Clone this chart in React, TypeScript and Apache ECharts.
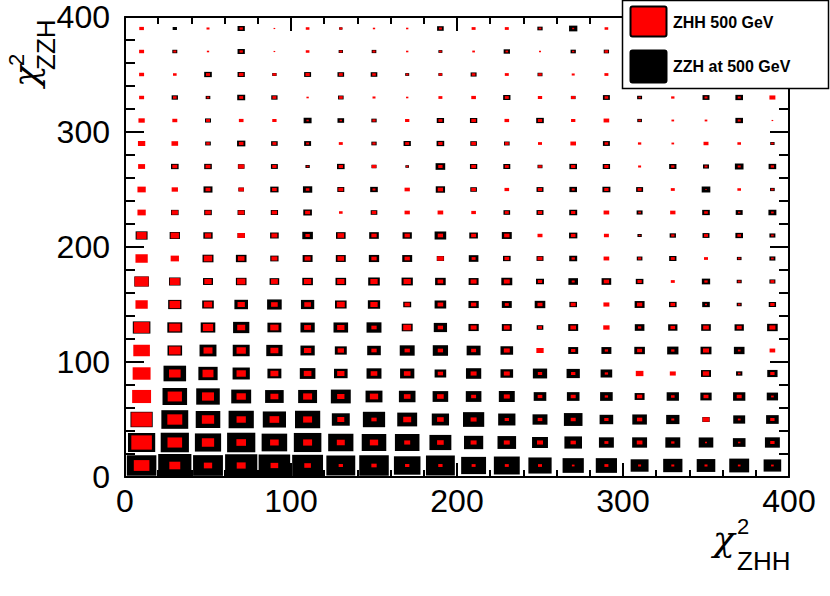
import React, { useEffect, useRef } from 'react';
import * as echarts from 'echarts';

// bin layout: 20 x 20 bins of width 20 on both axes (0..400)
const binWidth = 20;
const xTickLabels = ['0', '100', '200', '300', '400'];
const yTickLabels = ['0', '100', '200', '300', '400'];

// Relative bin contents (box size in % of the largest box), rows = chi2_ZZH bins (bottom to top),
// columns = chi2_ZHH bins (left to right)
const ZHH_500 = [
  [47, 33, 25, 27, 23, 20, 13, 16, 13, 13, 12, 12, 12, 8, 12, 9, 9, 9, 8, 8],
  [62, 44, 37, 29, 26, 27, 24, 25, 18, 20, 18, 18, 18, 16, 12, 17, 10, 6, 7, 13],
  [62, 45, 37, 28, 29, 27, 21, 16, 24, 20, 18, 13, 14, 15, 13, 16, 9, 20, 8, 13],
  [57, 43, 36, 28, 24, 27, 22, 25, 20, 20, 15, 18, 14, 15, 10, 16, 11, 15, 15, 8],
  [54, 35, 33, 28, 24, 23, 22, 20, 20, 16, 18, 18, 13, 13, 10, 23, 18, 19, 8, 13],
  [50, 35, 27, 28, 24, 22, 19, 16, 16, 16, 15, 18, 22, 13, 10, 15, 10, 18, 8, 17],
  [47, 34, 31, 24, 25, 21, 22, 16, 24, 16, 18, 18, 12, 17, 19, 10, 14, 17, 15, 18],
  [37, 32, 25, 22, 20, 20, 24, 22, 16, 17, 16, 12, 15, 15, 18, 16, 14, 6, 8, 13],
  [42, 30, 22, 25, 21, 22, 22, 22, 22, 17, 18, 18, 13, 9, 16, 13, 12, 10, 9, 12],
  [37, 25, 25, 20, 18, 18, 20, 16, 16, 20, 12, 14, 15, 10, 17, 10, 12, 12, 8, 8],
  [30, 25, 19, 22, 18, 13, 20, 16, 16, 16, 15, 16, 15, 14, 15, 6, 10, 12, 11, 8],
  [25, 19, 17, 18, 16, 15, 11, 14, 16, 17, 14, 12, 13, 13, 17, 8, 16, 11, 7, 8],
  [25, 19, 15, 16, 14, 11, 15, 9, 16, 16, 14, 14, 13, 9, 13, 12, 12, 4, 11, 8],
  [21, 15, 15, 18, 13, 7, 13, 14, 7, 13, 14, 12, 11, 13, 13, 9, 10, 9, 9, 10],
  [22, 20, 11, 14, 12, 9, 12, 10, 12, 13, 14, 12, 12, 17, 11, 10, 8, 15, 11, 8],
  [19, 15, 12, 14, 13, 7, 7, 10, 13, 12, 14, 14, 13, 13, 17, 8, 8, 8, 9, 5],
  [15, 11, 8, 12, 12, 7, 12, 9, 7, 12, 14, 12, 13, 13, 11, 7, 10, 9, 9, 18],
  [15, 11, 12, 14, 11, 13, 12, 11, 8, 10, 11, 12, 11, 9, 12, 9, 8, 10, 8, 9],
  [15, 9, 7, 10, 5, 11, 9, 9, 7, 8, 8, 8, 6, 7, 11, 8, 9, 7, 10, 8],
  [14, 0, 9, 10, 5, 11, 9, 7, 7, 9, 12, 12, 8, 6, 11, 9, 7, 8, 10, 7],
];

const ZZH_500 = [
  [89, 100, 90, 97, 95, 93, 87, 89, 80, 87, 75, 78, 70, 64, 64, 54, 58, 56, 60, 53],
  [82, 85, 79, 85, 77, 83, 76, 74, 74, 66, 58, 56, 48, 53, 45, 45, 45, 44, 38, 45],
  [67, 81, 74, 76, 70, 76, 54, 67, 60, 52, 64, 52, 45, 56, 41, 44, 40, 22, 36, 38],
  [50, 74, 71, 60, 56, 57, 60, 51, 50, 47, 47, 48, 38, 38, 38, 30, 37, 34, 37, 34],
  [45, 68, 58, 52, 42, 47, 41, 45, 43, 35, 46, 38, 43, 40, 35, 0, 0, 30, 19, 31],
  [40, 44, 51, 51, 49, 43, 36, 41, 45, 46, 42, 38, 0, 30, 30, 32, 34, 33, 32, 0],
  [53, 45, 44, 49, 42, 43, 44, 45, 33, 40, 31, 30, 20, 30, 0, 29, 28, 29, 28, 32],
  [30, 40, 35, 41, 44, 40, 35, 37, 24, 35, 31, 30, 32, 23, 0, 30, 23, 23, 15, 22],
  [44, 35, 30, 32, 29, 32, 32, 35, 34, 32, 30, 33, 24, 29, 29, 23, 0, 25, 15, 18],
  [30, 0, 33, 32, 25, 30, 30, 31, 30, 22, 29, 23, 21, 24, 0, 17, 22, 0, 14, 18],
  [36, 31, 28, 22, 26, 32, 29, 29, 28, 35, 26, 30, 0, 25, 0, 13, 19, 21, 23, 18],
  [0, 23, 23, 22, 22, 26, 0, 20, 0, 0, 0, 20, 21, 24, 0, 18, 0, 23, 21, 24],
  [0, 0, 27, 17, 25, 28, 21, 23, 0, 28, 20, 0, 21, 23, 24, 21, 0, 26, 0, 14],
  [0, 23, 23, 20, 21, 13, 23, 15, 11, 29, 22, 21, 15, 23, 22, 0, 22, 18, 26, 23],
  [0, 0, 17, 25, 20, 21, 0, 16, 22, 23, 20, 17, 0, 0, 21, 0, 0, 0, 0, 13],
  [0, 0, 18, 0, 0, 24, 20, 16, 0, 22, 22, 0, 23, 0, 0, 14, 0, 0, 23, 0],
  [0, 19, 14, 24, 19, 0, 17, 0, 0, 0, 0, 22, 0, 14, 21, 15, 0, 21, 23, 0],
  [0, 0, 23, 22, 13, 21, 20, 20, 12, 12, 18, 0, 15, 0, 0, 15, 0, 14, 12, 0],
  [0, 15, 0, 22, 0, 0, 13, 14, 0, 12, 0, 19, 0, 16, 16, 0, 12, 0, 14, 10],
  [0, 13, 0, 22, 0, 0, 10, 0, 0, 20, 0, 0, 16, 25, 0, 12, 0, 14, 0, 10],
];

const seriesNames = ['ZZH at 500 GeV', 'ZHH 500 GeV'];
const FONT = 'Liberation Sans';
const GREEK = 'DejaVu Serif';

function toPoints(grid: number[][]) {
  const pts: number[][] = [];
  grid.forEach((row, j) => {
    row.forEach((v, i) => {
      if (v > 0) pts.push([binWidth * i + binWidth / 2, binWidth * j + binWidth / 2, v]);
    });
  });
  return pts;
}

function makeRender(color: string) {
  return (params: any, api: any) => {
    const c = api.coord([api.value(0), api.value(1)]);
    const s = api.size([binWidth, binWidth]);
    const f = api.value(2) / 100;
    const w = s[0] * f;
    const h = s[1] * f;
    return {
      type: 'rect',
      shape: { x: c[0] - w / 2, y: c[1] - h / 2, width: w, height: h },
      style: { fill: color },
    };
  };
}

export default function App() {
  const ref = useRef<HTMLDivElement>(null);
  useEffect(() => {
    if (!ref.current) return;
    const chart = echarts.init(ref.current, undefined, { renderer: 'svg' });
    const axisLine = { show: true, onZero: false, lineStyle: { color: '#000', width: 2 } };
    const xBase = {
      type: 'value' as const,
      min: 0,
      max: 400,
      interval: 100,
      axisLine,
      splitLine: { show: false },
      minorSplitLine: { show: false },
      axisTick: { show: true, inside: true, length: 14, lineStyle: { color: '#000', width: 2 } },
      minorTick: { show: true, splitNumber: 5, length: 7, lineStyle: { color: '#000', width: 2 } },
    };
    const yBase = {
      ...xBase,
      axisTick: { show: true, inside: true, length: 19, lineStyle: { color: '#000', width: 2 } },
      minorTick: { show: true, splitNumber: 5, length: 10, lineStyle: { color: '#000', width: 2 } },
    };
    const labelStyle = { color: '#000', fontSize: 32, fontFamily: FONT };
    const chi = { text: 'χ', fontSize: 36, fontStyle: 'italic', fontFamily: GREEK, fill: '#000', align: 'left', verticalAlign: 'middle' };
    chart.setOption({
      animation: false,
      backgroundColor: '#fff',
      grid: { left: 125, top: 17, width: 664, height: 460, outerBoundsMode: 'none' },
      xAxis: [
        {
          ...xBase,
          position: 'bottom',
          axisLabel: { ...labelStyle, margin: 8, formatter: (v: number) => xTickLabels[v / 100] },
        },
        { ...xBase, position: 'top', axisLabel: { show: false } },
      ],
      yAxis: [
        {
          ...yBase,
          position: 'left',
          axisLabel: { ...labelStyle, margin: 15, formatter: (v: number) => yTickLabels[v / 100] },
        },
        { ...yBase, position: 'right', axisLabel: { show: false } },
      ],
      series: [
        {
          name: seriesNames[0],
          type: 'custom',
          xAxisIndex: 0,
          yAxisIndex: 0,
          renderItem: makeRender('#000000'),
          encode: { x: 0, y: 1 },
          data: toPoints(ZZH_500),
          z: 2,
        },
        {
          name: seriesNames[1],
          type: 'custom',
          xAxisIndex: 0,
          yAxisIndex: 0,
          renderItem: makeRender('#ff0000'),
          encode: { x: 0, y: 1 },
          data: toPoints(ZHH_500),
          z: 3,
        },
      ],
      graphic: [
        // x-axis title
        { type: 'text', x: 713, y: 538, z: 50, style: chi },
        { type: 'text', x: 737, y: 526, z: 50, style: { text: '2', fontSize: 22, fontFamily: FONT, fill: '#000', align: 'left', verticalAlign: 'middle' } },
        { type: 'text', x: 737, y: 561, z: 50, style: { text: 'ZHH', fontSize: 26, fontFamily: FONT, fill: '#000', align: 'left', verticalAlign: 'middle' } },
        // y-axis title (rotated)
        { type: 'text', x: 25, y: 87, rotation: Math.PI / 2, z: 50, style: chi },
        { type: 'text', x: 16, y: 66, rotation: Math.PI / 2, z: 50, style: { text: '2', fontSize: 22, fontFamily: FONT, fill: '#000', align: 'left', verticalAlign: 'middle' } },
        { type: 'text', x: 46, y: 70, rotation: Math.PI / 2, z: 50, style: { text: 'ZZH', fontSize: 26, fontFamily: FONT, fill: '#000', align: 'left', verticalAlign: 'middle' } },
        // legend
        { type: 'rect', z: 100, shape: { x: 622.5, y: 0.5, width: 206, height: 88 }, style: { fill: '#fff', stroke: '#000', lineWidth: 1.5 } },
        { type: 'rect', z: 101, shape: { x: 630.5, y: 6.5, width: 36, height: 30, r: 2 }, style: { fill: '#ff0000', stroke: '#000', lineWidth: 2 } },
        { type: 'text', z: 101, x: 673, y: 22.5, style: { text: seriesNames[1], fontSize: 16, fontWeight: 'bold', fontFamily: FONT, fill: '#000', align: 'left', verticalAlign: 'middle' } },
        { type: 'rect', z: 101, shape: { x: 630.5, y: 50.5, width: 36, height: 32, r: 2 }, style: { fill: '#000', stroke: '#000', lineWidth: 2 } },
        { type: 'text', z: 101, x: 673, y: 66.5, style: { text: seriesNames[0], fontSize: 16, fontWeight: 'bold', fontFamily: FONT, fill: '#000', align: 'left', verticalAlign: 'middle' } },
      ],
    });
    return () => chart.dispose();
  }, []);
  return <div ref={ref} style={{ position: 'fixed', left: 0, top: 0, width: 830, height: 596 }} />;
}
